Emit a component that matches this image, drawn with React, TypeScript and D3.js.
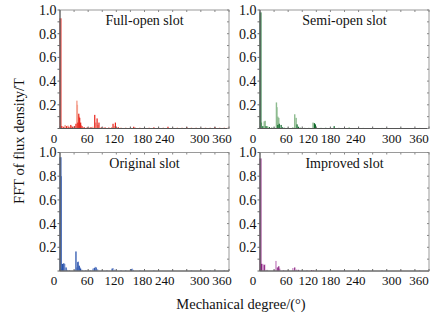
import React from "react";
import * as d3 from "d3";

// ---- data: [mechanical degree, FFT amplitude (T)] ----
const fullOpenDark: [number, number][] = [
  [1, 0.93], [4, 0.02], [8, 0.015], [14, 0.02], [19, 0.015], [23, 0.03], [27, 0.015], [31, 0.02],
  [34, 0.04], [38, 0.05], [40, 0.125], [42, 0.09], [44, 0.05], [47, 0.02], [52, 0.01], [58, 0.01],
  [66, 0.012], [74, 0.115], [79, 0.085], [83, 0.05], [88, 0.01], [96, 0.01], [104, 0.008],
  [113, 0.04], [118, 0.05], [124, 0.012], [157, 0.015], [200, 0.01], [230, 0.015], [270, 0.012], [330, 0.012],
];
const fullOpenLight: [number, number][] = [
  [2, 0.02], [11, 0.03], [17, 0.025], [25, 0.02], [36, 0.235], [37, 0.2], [41, 0.1], [45, 0.03],
  [50, 0.012], [62, 0.01], [70, 0.015], [76, 0.05], [81, 0.03], [92, 0.008], [110, 0.012], [116, 0.02],
  [130, 0.008], [140, 0.008], [150, 0.008], [160, 0.01], [170, 0.008], [180, 0.008], [190, 0.008],
  [210, 0.008], [220, 0.008], [240, 0.008], [250, 0.008], [260, 0.008], [280, 0.008], [290, 0.008],
  [300, 0.008], [310, 0.008], [320, 0.008], [340, 0.008], [350, 0.008], [358, 0.008],
];

const semiOpenDark: [number, number][] = [
  [1, 0.98], [6, 0.02], [13, 0.02], [20, 0.012], [38, 0.03], [41, 0.04], [45, 0.03], [48, 0.01],
  [79, 0.035], [82, 0.015], [116, 0.045], [118, 0.035], [158, 0.02], [140, 0.006],
];
const semiOpenLight: [number, number][] = [
  [3, 0.05], [9, 0.06], [11, 0.065], [16, 0.02], [25, 0.01], [30, 0.01], [35, 0.22], [36, 0.18],
  [38, 0.1], [40, 0.09], [52, 0.008], [60, 0.008], [70, 0.01], [74, 0.12], [77, 0.09], [86, 0.008],
  [95, 0.006], [104, 0.006], [113, 0.05], [130, 0.006], [150, 0.006], [168, 0.006], [190, 0.01],
  [220, 0.005], [260, 0.005], [300, 0.005], [340, 0.005],
];

const originalDark: [number, number][] = [
  [1, 0.96], [2, 0.8], [5, 0.06], [8, 0.065], [13, 0.03], [34, 0.165], [38, 0.075], [41, 0.045],
  [44, 0.02], [73, 0.025], [77, 0.03], [111, 0.02], [152, 0.015],
];
const originalLight: [number, number][] = [
  [4, 0.02], [10, 0.06], [15, 0.01], [20, 0.006], [31, 0.01], [36, 0.03], [39, 0.08], [43, 0.03],
  [47, 0.01], [55, 0.006], [65, 0.006], [70, 0.02], [75, 0.035], [80, 0.015], [90, 0.006], [100, 0.006],
  [113, 0.025], [117, 0.012], [130, 0.006], [140, 0.006], [154, 0.02], [156, 0.01], [170, 0.005],
  [200, 0.005], [240, 0.005], [280, 0.005], [320, 0.005], [350, 0.005],
];

const improvedDark: [number, number][] = [
  [1, 0.95], [3, 0.06], [9, 0.05], [38, 0.03], [40, 0.04], [74, 0.03], [82, 0.01], [110, 0.008],
];
const improvedLight: [number, number][] = [
  [4, 0.06], [6, 0.06], [10, 0.055], [15, 0.01], [30, 0.01], [34, 0.085], [36, 0.03], [42, 0.02],
  [50, 0.008], [60, 0.006], [70, 0.025], [78, 0.012], [90, 0.006], [100, 0.006], [114, 0.008],
  [130, 0.005], [150, 0.005], [180, 0.005], [220, 0.005], [260, 0.005], [300, 0.005], [340, 0.005],
];

const panelTitles = ["Full-open slot", "Semi-open slot", "Original slot", "Improved slot"];
const xTickValues = [0, 60, 120, 180, 240, 300, 360];
const yTickValues = [0.2, 0.4, 0.6, 0.8, 1.0];
const yAxisTitle = "FFT of flux density/T";
const xAxisTitle = "Mechanical degree/(°)";

// ---- layout / styles ----
const W = 441, H = 321;
const colX = [60, 260];
const rowY = [10, 152.5];
const PW = 169, PH = 118.5;
const FONT = "'Liberation Serif', 'Times New Roman', serif";
const labelDx = [
  [-6, -1, -2, -2, -8, -1, -7],
  [-7, -2, -8, -14, -17, -9, -10],
];
const colors = [
  { dark: "#e8221a", light: "#f4a08e" },
  { dark: "#0f6b2c", light: "#8dbb8f" },
  { dark: "#1d4aa8", light: "#8fa3d9" },
  { dark: "#8a2080", light: "#c98fc5" },
];
const panelData = [
  [fullOpenDark, fullOpenLight],
  [semiOpenDark, semiOpenLight],
  [originalDark, originalLight],
  [improvedDark, improvedLight],
];

function Panel({ idx }: { idx: number }) {
  const col = idx % 2, row = Math.floor(idx / 2);
  const x0 = colX[col], y0 = rowY[row];
  const x = d3.scaleLinear().domain([0, 360]).range([x0, x0 + PW]);
  const y = d3.scaleLinear().domain([0, 1]).range([y0 + PH, y0]);
  const [dark, light] = panelData[idx];
  const c = colors[idx];
  const minorX = d3.range(0, 361, 30);
  const minorY = d3.range(0, 1.001, 0.1);
  const bar = (d: [number, number], color: string, i: number, w: number) => (
    <rect key={color + i} x={x(d[0]) - w / 2} y={y(d[1])} width={w} height={y(0) - y(d[1])} fill={color} />
  );
  return (
    <g>
      {light.map((d, i) => bar(d, c.light, i, 1.4))}
      {dark.map((d, i) => bar(d, c.dark, i, i === 0 ? 2 : 1.2))}
      <rect x={x0} y={y0} width={PW} height={PH} fill="none" stroke="#9a9a9a" strokeWidth={1} />
      <line x1={x0} x2={x0} y1={y0} y2={y0 + PH} stroke="#555" strokeWidth={1} />
      <line x1={x0} x2={x0 + PW} y1={y0 + PH} y2={y0 + PH} stroke="#555" strokeWidth={1} />
      {minorX.map((v) => (
        <g key={"xt" + v}>
          <line x1={x(v)} x2={x(v)} y1={y0 + PH} y2={y0 + PH - 2} stroke="#666" />
          <line x1={x(v)} x2={x(v)} y1={y0} y2={y0 + 2} stroke="#888" />
        </g>
      ))}
      {minorY.map((v) => (
        <g key={"yt" + v.toFixed(1)}>
          <line x1={x0} x2={x0 - 2.5} y1={y(v)} y2={y(v)} stroke="#666" />
          <line x1={x0 + PW} x2={x0 + PW - 2} y1={y(v)} y2={y(v)} stroke="#888" />
        </g>
      ))}
      {yTickValues.map((v) => (
        <text key={"yl" + v} x={x0 - 3.5} y={y(v)} dy="0.35em" textAnchor="end" fontSize={14} fontFamily={FONT} fill="#111">
          {v.toFixed(1)}
        </text>
      ))}
      {xTickValues.map((v, i) => (
        <text key={"xl" + v} x={x(v) + labelDx[col][i]} y={y0 + PH + 14} textAnchor="middle" fontSize={13} fontFamily={FONT} fill="#111">
          {v}
        </text>
      ))}
      <text x={x0 + PW / 2} y={y0 + 15} textAnchor="middle" fontSize={14} fontFamily={FONT} fill="#111">
        {panelTitles[idx]}
      </text>
    </g>
  );
}

export default function App() {
  return (
    <svg width={W} height={H} style={{ display: "block", background: "#fff", position: "absolute", left: 0, top: 0 }}>
      <rect width={W} height={H} fill="#fff" />
      {[0, 1, 2, 3].map((i) => <Panel key={i} idx={i} />)}
      <text transform={`translate(24,141) rotate(-90)`} textAnchor="middle" fontSize={14.5} fontFamily={FONT} fill="#111">
        {yAxisTitle}
      </text>
      <text x={241} y={309} textAnchor="middle" fontSize={14.5} fontFamily={FONT} fill="#111">
        {xAxisTitle}
      </text>
    </svg>
  );
}
